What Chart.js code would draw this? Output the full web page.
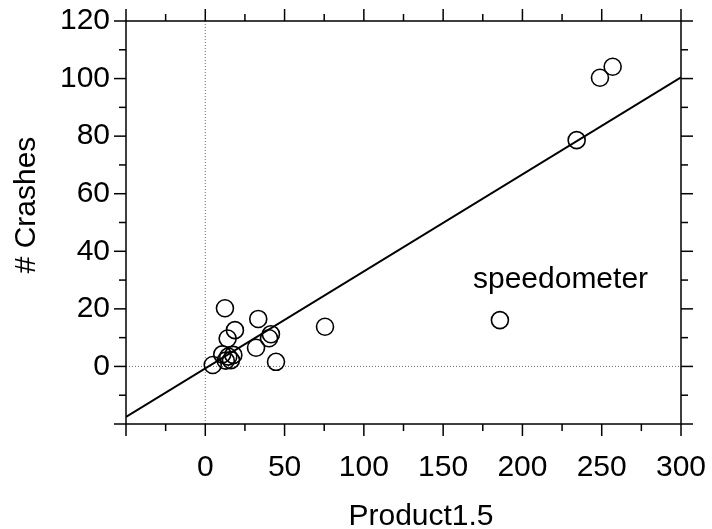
<!DOCTYPE html>
<html>
<head>
<meta charset="utf-8">
<script src="https://cdn.jsdelivr.net/npm/chart.js@4.4.1/dist/chart.umd.min.js"></script>
<style>
  html, body { margin: 0; padding: 0; background: #fff; }
</style>
</head>
<body>
<canvas id="crashes" width="712" height="529"></canvas>
<script>
// Product1.5 vs # crashes
var product = [12.4, 33.4, 18.7, 14.1, 41.4, 40.2, 32.0, 44.6, 10.7, 14.5, 16.2, 12.9, 17.7, 4.7, 256.9, 248.9, 234.2, 185.8, 75.5];
var crashes = [20.2, 16.5, 12.6, 9.7, 11.2, 9.8, 6.5, 1.6, 4.2, 3.4, 2.2, 2.0, 4.0, 0.5, 104.1, 100.3, 78.6, 16.1, 13.8];

// fitted line, from one axis limit to the other
var fitX = [-50, 300];
var fitY = [-17.5, 100.4];

var xTicks = [0, 50, 100, 150, 200, 250, 300];
var yTicks = [0, 20, 40, 60, 80, 100, 120];

var noteText = "speedometer";
var noteAt = [168.8, 27.1];

var FONT = '"Liberation Sans", Arial, Helvetica, sans-serif';

function seg(ctx, x1, y1, x2, y2) {
    ctx.beginPath();
    ctx.moveTo(x1, y1);
    ctx.lineTo(x2, y2);
    ctx.stroke();
}

var framePlugin = {
    id: 'frame',
    beforeDatasetsDraw: function (chart) {
        var ctx = chart.ctx, a = chart.chartArea;
        var x0 = chart.scales.x.getPixelForValue(0);
        var y0 = chart.scales.y.getPixelForValue(0);
        ctx.save();
        ctx.strokeStyle = '#666';
        ctx.lineWidth = 1;
        ctx.setLineDash([1, 2]);
        seg(ctx, x0, a.top, x0, a.bottom);
        seg(ctx, a.left, y0, a.right, y0);
        ctx.restore();
    },
    afterDraw: function (chart) {
        var ctx = chart.ctx, a = chart.chartArea;
        var sx = chart.scales.x, sy = chart.scales.y;
        ctx.save();
        ctx.strokeStyle = '#000';
        ctx.lineWidth = 1.5;
        ctx.strokeRect(a.left, a.top, a.right - a.left, a.bottom - a.top);

        // ticks on all four sides, pointing out
        for (var v = -50; v <= 300; v += 25) {
            var len = v % 50 === 0 ? 12 : 7;
            var px = sx.getPixelForValue(v);
            seg(ctx, px, a.bottom, px, a.bottom + len);
            seg(ctx, px, a.top, px, a.top - len);
        }
        for (var w = -20; w <= 120; w += 10) {
            var l2 = w % 20 === 0 ? 12 : 7;
            var py = sy.getPixelForValue(w);
            seg(ctx, a.left, py, a.left - l2, py);
            seg(ctx, a.right, py, a.right + l2, py);
        }

        ctx.fillStyle = '#000';
        ctx.font = '30px ' + FONT;
        ctx.textBaseline = 'alphabetic';

        ctx.textAlign = 'center';
        ctx.fillText('Product1.5', 421, 525);

        ctx.save();
        ctx.translate(35, 205);
        ctx.rotate(-Math.PI / 2);
        ctx.fillText('# Crashes', 0, 0);
        ctx.restore();

        ctx.textAlign = 'left';
        ctx.fillText(noteText, sx.getPixelForValue(noteAt[0]), sy.getPixelForValue(noteAt[1]));
        ctx.restore();
    }
};

new Chart(document.getElementById('crashes'), {
    type: 'scatter',
    data: {
        datasets: [
            {
                type: 'line',
                data: fitX.map(function (x, i) { return { x: x, y: fitY[i] }; }),
                borderColor: '#000',
                borderWidth: 2,
                pointRadius: 0,
                fill: false,
                tension: 0
            },
            {
                data: product.map(function (x, i) { return { x: x, y: crashes[i] }; }),
                borderColor: '#000',
                backgroundColor: 'rgba(0,0,0,0)',
                borderWidth: 1.6,
                pointRadius: 8.5,
                pointHoverRadius: 8.5
            }
        ]
    },
    options: {
        responsive: false,
        animation: false,
        devicePixelRatio: 1,
        layout: { padding: { top: 21, right: 31, left: 0, bottom: 0 } },
        plugins: { legend: { display: false }, tooltip: { enabled: false } },
        scales: {
            x: {
                type: 'linear',
                min: -50,
                max: 300,
                afterFit: function (s) {
                    s.height = 105;
                    s.paddingLeft = 0;
                    s.paddingRight = 0;
                },
                grid: { display: false, drawTicks: false },
                border: { display: false },
                ticks: {
                    stepSize: 50,
                    padding: 26,
                    maxRotation: 0,
                    color: '#000',
                    font: { family: FONT, size: 30 },
                    callback: function (v) { return xTicks.indexOf(v) >= 0 ? String(v) : ''; }
                }
            },
            y: {
                type: 'linear',
                min: -20,
                max: 120,
                afterFit: function (s) {
                    s.width = 126;
                    s.paddingTop = 0;
                    s.paddingBottom = 0;
                },
                grid: { display: false, drawTicks: false },
                border: { display: false },
                ticks: {
                    stepSize: 20,
                    padding: 16,
                    color: '#000',
                    font: { family: FONT, size: 30 },
                    callback: function (v) { return yTicks.indexOf(v) >= 0 ? String(v) : ''; }
                }
            }
        }
    },
    plugins: [framePlugin]
});
</script>
</body>
</html>
